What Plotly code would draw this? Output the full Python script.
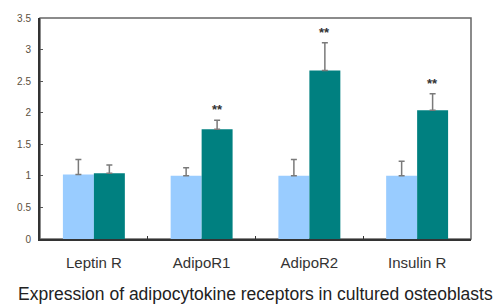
import plotly.graph_objects as go

categories = ["Leptin R", "AdipoR1", "AdipoR2", "Insulin R"]
control_vals = [1.02, 1.00, 1.00, 1.00]
control_err = [0.24, 0.13, 0.26, 0.23]
treated_vals = [1.04, 1.74, 2.67, 2.04]
treated_err = [0.13, 0.14, 0.44, 0.26]
significance = ["", "**", "**", "**"]
caption = "Expression of adipocytokine receptors in cultured osteoblasts"

FONT = "Arial, Liberation Sans, sans-serif"

fig = go.Figure()
fig.add_trace(go.Bar(
    x=categories, y=control_vals, marker=dict(color="#99CCFF", line=dict(width=0)),
    error_y=dict(type="data", array=control_err, arrayminus=[0]*4, symmetric=False,
                 color="#7a7a7a", thickness=1.5, width=3),
    showlegend=False))
fig.add_trace(go.Bar(
    x=categories, y=treated_vals, marker=dict(color="#008080", line=dict(width=0)),
    error_y=dict(type="data", array=treated_err, arrayminus=[0]*4, symmetric=False,
                 color="#7a7a7a", thickness=1.5, width=3),
    showlegend=False))

for c, v, e, s in zip(categories, treated_vals, treated_err, significance):
    if s:
        fig.add_annotation(x=c, y=v + e, text="<b>" + s + "</b>", showarrow=False, xshift=15.5,
                           yanchor="bottom", yshift=1,
                           font=dict(family=FONT, size=13, color="#333333"))

fig.add_annotation(xref="paper", yref="paper", x=0.5, y=0, xanchor="center", yanchor="middle",
                   yshift=-55, xshift=0,
                   text=caption, showarrow=False,
                   font=dict(family=FONT, size=17.5, color="#222222"))

fig.add_shape(type="rect", xref="paper", yref="paper", x0=0, x1=1, y0=0, y1=1,
              line=dict(color="#666666", width=1.5), layer="below")

fig.update_layout(
    width=501, height=304,
    margin=dict(l=40, r=30, t=14, b=65),
    paper_bgcolor="white", plot_bgcolor="white",
    barmode="group", bargap=0.425, bargroupgap=0,
    xaxis=dict(showline=True, linecolor="#333333", linewidth=2, ticks="inside", ticklen=3,
               tickson="boundaries", tickcolor="#333333", ticklabelstandoff=9,
               tickfont=dict(family=FONT, size=15, color="#333333"),
               showgrid=False),
    yaxis=dict(range=[0, 3.5], dtick=0.5, showline=True, linecolor="#333333", linewidth=2,
               ticks="inside", ticklen=3, tickcolor="#555555", showgrid=False, zeroline=False,
               ticklabelstandoff=5,
               tickfont=dict(family=FONT, size=10, color="#5b5040")),
)

fig.write_html("out.html", config={"displayModeBar": False},
               post_script="document.body.style.margin='0';document.body.style.overflow='hidden';")
